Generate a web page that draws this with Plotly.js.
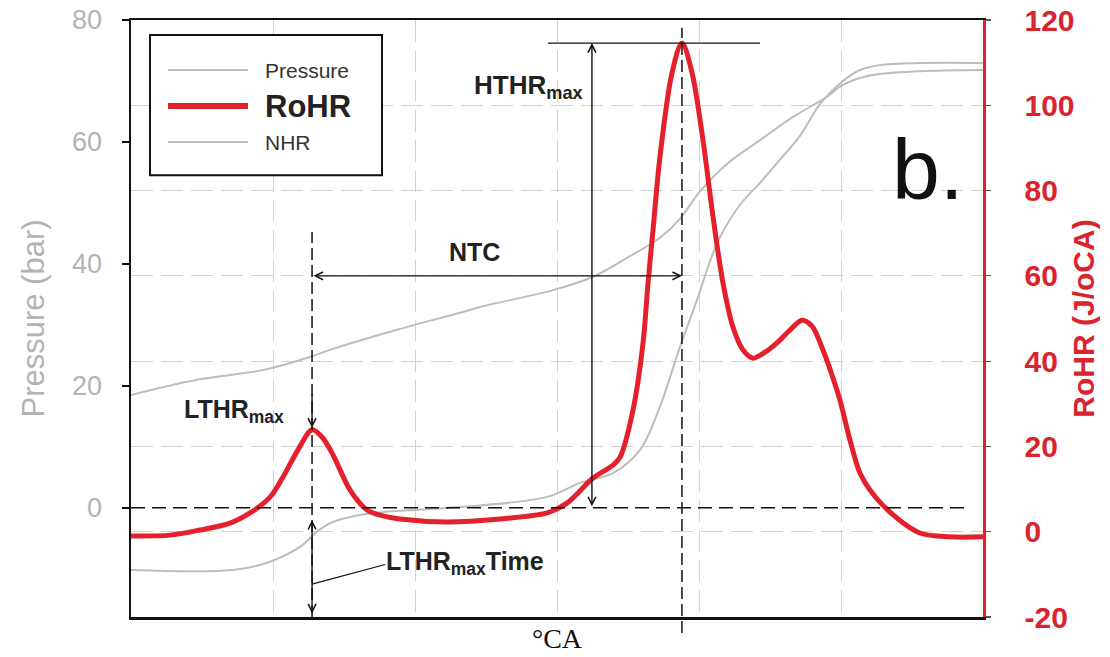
<!DOCTYPE html>
<html>
<head>
<meta charset="utf-8">
<script src="https://cdn.plot.ly/plotly-3.0.1.min.js"></script>
<style>html,body{margin:0;padding:0;background:#fff;}#chart{width:1110px;height:657px;}</style>
</head>
<body>
<div id="chart"></div>
<script>
// ---- data ----
const caRoHR = [330.0,332.75,334.86,336.97,338.38,339.79,340.70,341.76,342.75,343.45,344.23,345.42,346.62,347.75,348.94,352.25,355.99,359.30,360.70,362.54,363.94,364.44,365.35,366.06,366.41,366.76,367.25,368.10,368.80,369.51,370.28,370.99,371.69,372.39,373.10,373.80,374.65,375.49,376.41,377.25,377.96,378.73,379.37,379.93,380.63,381.34,382.04,383.45,385.56,387.68,390.0];
const rohr   = [-1.0,-0.8,0.4,2.0,4.4,8.1,12.8,19.2,23.9,22.2,18.0,9.8,5.1,3.7,3.0,2.3,3.0,4.4,6.7,12.6,15.6,17.5,28.5,44.3,58.3,70.7,87.9,107.6,114.6,107.6,91.8,73.8,58.3,48.0,42.6,40.7,42.1,44.3,47.3,49.6,48.2,42.6,36.7,30.8,21.5,13.7,9.8,4.6,-0.3,-1.2,-1.2];

const caPressure = [330.0,334.65,339.30,342.61,344.01,348.73,353.17,354.58,359.72,362.54,364.93,367.25,368.66,370.07,371.97,374.30,376.62,379.01,380.0,381.34,382.75,385.56,390.0];
const pressure   = [18.5,21.0,22.6,24.75,25.9,29.2,32.0,32.95,35.7,37.9,41.0,44.3,47.4,51.9,56.4,60.3,64.1,67.4,69.2,70.5,71.15,71.6,71.8];

const caNHR = [330.0,337.18,339.58,341.90,343.10,344.23,345.42,347.75,352.46,359.30,361.62,363.94,365.85,367.25,368.66,369.86,370.77,371.48,372.89,374.30,375.70,377.11,378.52,380.14,381.34,382.75,385.56,390.0];
const nhr   = [-10.2,-10.2,-9.0,-6.4,-3.9,-2.3,-1.5,-0.7,0.0,1.8,4.1,5.7,9.5,16.6,26.4,34.1,40.4,44.4,49.7,53.3,57.1,61.0,66.2,70.0,71.8,72.6,72.95,72.95];

const leftTicks  = [0,20,40,60,80];
const rightTicks = [-20,0,20,40,60,80,100,120];
const rightTickText = ['-20','0','20','40','60','80','100','120'];
const xRange = [330,390];
const leftRange = [-17.9,80];
const rightRange = [-20,120];

// ---- derived marker positions from the data ----
function argmaxIn(xs, ys, lo, hi){
  let bi=-1;
  for(let i=0;i<xs.length;i++){ if(xs[i]>=lo && xs[i]<=hi && (bi<0 || ys[i]>ys[bi])) bi=i; }
  return bi;
}
const iLT = argmaxIn(caRoHR, rohr, 330, 350);
const iHT = argmaxIn(caRoHR, rohr, 350, 390);
const ltX = caRoHR[iLT], ltY = rohr[iLT];
const htX = caRoHR[iHT], htY = rohr[iHT];

const W = 852, H = 597;
const pxPerCA = W/(xRange[1]-xRange[0]);
const pxPerR = H/(rightRange[1]-rightRange[0]);
function leftToRight(v){ return rightRange[0] + (v-leftRange[0])/(leftRange[1]-leftRange[0])*(rightRange[1]-rightRange[0]); }

const gray = '#bdbdbd';
const red = '#e3202c';
const ink = '#222222';
const fontSans = 'Liberation Sans, Arial, sans-serif';

const traces = [
  {x: caPressure, y: pressure, yaxis:'y', mode:'lines', name:'Pressure',
   line:{color:gray, width:2, shape:'spline', smoothing:1}},
  {x: caNHR, y: nhr, yaxis:'y', mode:'lines', name:'NHR',
   line:{color:gray, width:2, shape:'spline', smoothing:1}},
  {x: caRoHR, y: rohr, yaxis:'y2', mode:'lines', name:'RoHR',
   line:{color:red, width:5, shape:'spline', smoothing:0.9}}
];

const zeroRight = leftToRight(0);

const shapes = [
  {type:'line', xref:'x', yref:'paper', x0:ltX, x1:ltX, y0:0, y1:0.645, line:{color:'#111', width:1.5, dash:'12px,5px'}},
  {type:'line', xref:'x', yref:'paper', x0:htX, x1:htX, y0:-0.027, y1:0.987, line:{color:'#111', width:1.5, dash:'12px,5px'}},
  {type:'line', xref:'x', yref:'y', x0:330, x1:388.8, y0:0, y1:0, line:{color:'#111', width:1.5, dash:'14px,7px'}},
  {type:'line', xref:'x', yref:'y2', x0:359.37, x1:374.3, y0:htY, y1:htY, line:{color:'#111', width:1.3}},
  {type:'line', xref:'x', yref:'paper', x0:ltX, x1:347.9, y0:0.055, y1:0.088, line:{color:'#111', width:1.2}},
  {type:'rect', xref:'paper', yref:'paper', x0:0.0223, x1:0.2946, y0:0.740, y1:0.975, line:{color:'#111', width:2}, fillcolor:'#ffffff', layer:'above'},
  {type:'line', xref:'paper', yref:'paper', x0:0.0434, x1:0.1373, y0:0.9162, y1:0.9162, line:{color:gray, width:2}},
  {type:'line', xref:'paper', yref:'paper', x0:0.0434, x1:0.1373, y0:0.8559, y1:0.8559, line:{color:red, width:6}},
  {type:'line', xref:'paper', yref:'paper', x0:0.0434, x1:0.1373, y0:0.7956, y1:0.7956, line:{color:gray, width:2}}
];

const arrowBase = {text:'', showarrow:true, arrowhead:5, arrowsize:1.1, arrowwidth:1.4, arrowcolor:'#111', standoff:0, startstandoff:0};

const annotations = [
  Object.assign({}, arrowBase, {xref:'x', yref:'y2', x:ltX, y:ltY+0.5, ax:0, ay:-35}),
  Object.assign({}, arrowBase, {xref:'x', yref:'paper', x:ltX, y:0.006, ax:0, ay:-95, arrowside:'end+start', startarrowhead:5, startarrowsize:1.1}),
  Object.assign({}, arrowBase, {xref:'x', yref:'y2', x:htX, y:60, ax:-(htX-ltX)*pxPerCA, ay:0, arrowside:'end+start', startarrowhead:5, startarrowsize:1.1}),
  Object.assign({}, arrowBase, {xref:'x', yref:'y2', x:362.46, y:htY, ax:0, ay:(htY-zeroRight)*pxPerR, arrowside:'end+start', startarrowhead:5, startarrowsize:1.1}),
  {xref:'x', yref:'paper', x:354.0, y:0.888, text:'<b>HTHR<sub>max</sub></b>', showarrow:false, xanchor:'left', yanchor:'middle', font:{family:fontSans, size:26, color:ink}},
  {xref:'x', yref:'paper', x:354.2, y:0.612, text:'<b>NTC</b>', showarrow:false, xanchor:'center', yanchor:'middle', font:{family:fontSans, size:25, color:ink}},
  {xref:'x', yref:'paper', x:333.6, y:0.345, text:'<b>LTHR<sub>max</sub></b>', showarrow:false, xanchor:'left', yanchor:'middle', font:{family:fontSans, size:25, color:ink}},
  {xref:'x', yref:'paper', x:347.8, y:0.090, text:'<b>LTHR<sub>max</sub>Time</b>', showarrow:false, xanchor:'left', yanchor:'middle', font:{family:fontSans, size:25, color:ink}},
  {xref:'x', yref:'paper', x:386.1, y:0.750, text:'b.', showarrow:false, xanchor:'center', yanchor:'middle', font:{family:fontSans, size:86, color:'#111'}},
  {xref:'paper', yref:'paper', x:0.155, y:0.9162, text:'Pressure', showarrow:false, xanchor:'left', yanchor:'middle', font:{family:fontSans, size:21, color:'#333'}},
  {xref:'paper', yref:'paper', x:0.155, y:0.8559, text:'<b>RoHR</b>', showarrow:false, xanchor:'left', yanchor:'middle', font:{family:fontSans, size:31, color:'#222'}},
  {xref:'paper', yref:'paper', x:0.155, y:0.7956, text:'NHR', showarrow:false, xanchor:'left', yanchor:'middle', font:{family:fontSans, size:21, color:'#333'}}
];

const layout = {
  width:1110, height:657,
  margin:{l:131, r:127, t:20, b:40, pad:0},
  paper_bgcolor:'#ffffff', plot_bgcolor:'#ffffff',
  showlegend:false,
  xaxis:{range:xRange, dtick:10, tick0:330, showgrid:true, gridcolor:'#d2d2d2', gridwidth:1, griddash:'22px,8px',
         zeroline:false, showticklabels:false, ticks:'', showline:true, linecolor:'#111', linewidth:2.5, mirror:true,
         title:{text:'°CA', font:{family:'Liberation Serif, Times New Roman, serif', size:28, color:'#111'}, standoff:10}, automargin:false},
  yaxis:{range:leftRange, tickvals:leftTicks, showgrid:false, zeroline:false, showline:true, linecolor:'#111', linewidth:2.5,
         ticks:'outside', ticklen:7, tickcolor:'#111', tickwidth:1.5, ticklabelstandoff:14,
         tickfont:{family:fontSans, size:27, color:'#b3b3b3'},
         title:{text:'Pressure (bar)', font:{family:fontSans, size:31, color:'#b3b3b3'}, standoff:18}, automargin:false},
  yaxis2:{range:rightRange, tickvals:rightTicks, ticktext:rightTickText, overlaying:'y', side:'right', showgrid:true, gridcolor:'#d2d2d2', gridwidth:1, griddash:'22px,8px',
          zeroline:false, showline:true, linecolor:red, linewidth:2.5, ticks:'outside', ticklen:5, tickcolor:'#555', tickwidth:1.2,
          ticklabelstandoff:28, tickfont:{family:fontSans, size:30, color:'#d9232f', weight:'bold'},
          title:{text:'RoHR (J/oCA)', font:{family:fontSans, size:30, color:'#d9232f', weight:'bold'}, standoff:0}, automargin:false},
  shapes:shapes,
  annotations:annotations
};

Plotly.newPlot('chart', traces, layout, {displayModeBar:false, staticPlot:true});
</script>
</body>
</html>
